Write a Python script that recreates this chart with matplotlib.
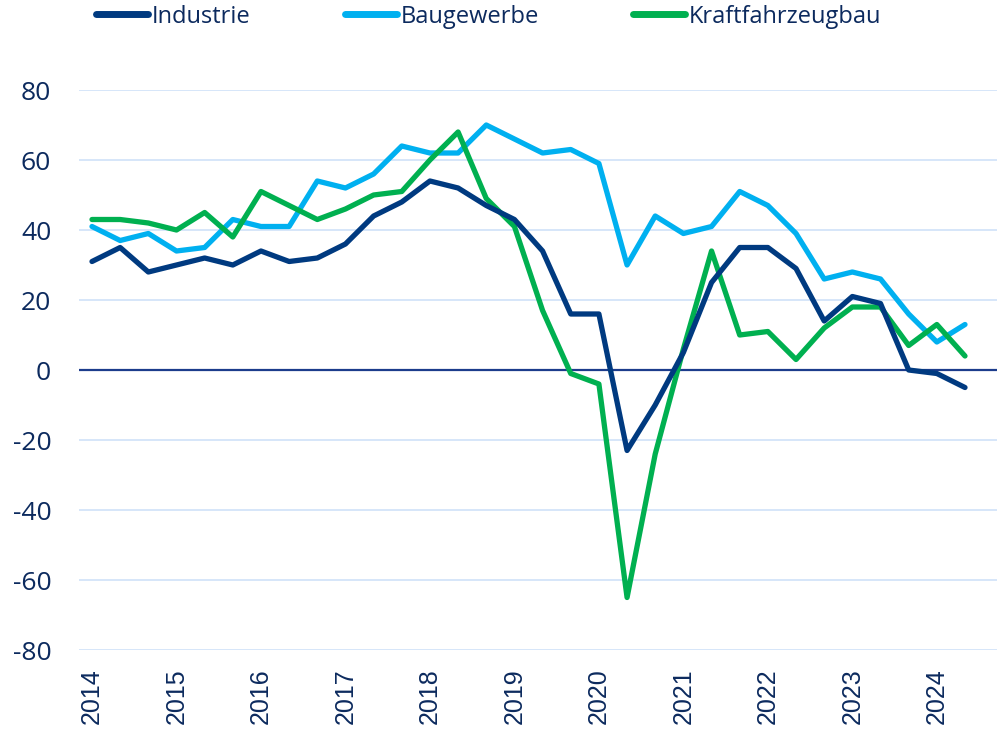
import matplotlib.pyplot as plt

plt.rcParams['axes.unicode_minus'] = False

# quarterly-ish survey balances (3 per year), 2014 .. mid 2024
years = [str(y) for y in range(2014, 2025)]

industrie = [31, 35, 28, 30, 32, 30, 34, 31, 32, 36, 44, 48, 54, 52, 47, 43,
             34, 16, 16, -23, -10, 5, 25, 35, 35, 29, 14, 21, 19, 0, -1, -5]
baugewerbe = [41, 37, 39, 34, 35, 43, 41, 41, 54, 52, 56, 64, 62, 62, 70, 66,
              62, 63, 59, 30, 44, 39, 41, 51, 47, 39, 26, 28, 26, 16, 8, 13]
kfz = [43, 43, 42, 40, 45, 38, 51, 47, 43, 46, 50, 51, 60, 68, 49, 41,
       17, -1, -4, -65, -24, 6, 34, 10, 11, 3, 12, 18, 18, 7, 13, 4]

navy = '#003a80'
txt = '#0c2a5e'
grid_col = '#cfe2f8'

fig = plt.figure(figsize=(9.97, 7.33), dpi=100)
W, H = 997, 733
ax = fig.add_axes([79 / W, 1 - 650 / H, (997 - 79) / W, (650 - 90) / H])

x = list(range(len(industrie)))
lw = 3.8
ax.plot(x, industrie, color=navy, lw=lw, label='Industrie', solid_capstyle='round', zorder=4)
ax.plot(x, baugewerbe, color='#00b0f0', lw=lw, label='Baugewerbe', solid_capstyle='round', zorder=3)
ax.plot(x, kfz, color='#00b050', lw=lw, label='Kraftfahrzeugbau', solid_capstyle='round', zorder=3.5)

ax.set_ylim(-80, 80)
ax.set_xlim(-13 / 28.16, 31 + 32 / 28.16)
ax.set_yticks(range(-80, 81, 20))
ax.set_xticks(range(0, 31, 3))
ax.set_xticklabels(years, rotation=90, family='Liberation Sans', fontsize=18, color=txt)
for lab in ax.get_yticklabels():
    lab.set_family('Open Sans')
    lab.set_fontsize(19)
    lab.set_color(txt)

ax.grid(axis='y', color=grid_col, lw=1.2, zorder=0)
ax.axhline(0, color='#1c3c8c', lw=1.6, zorder=2)
ax.tick_params(axis='both', length=0)
ax.tick_params(axis='y', pad=20)
ax.tick_params(axis='x', pad=13)
for s in ax.spines.values():
    s.set_visible(False)

leg = ax.legend(loc='lower left', bbox_to_anchor=(8 / 918, 1 + 52 / 560), ncol=3, frameon=False,
                handlelength=2.2, handletextpad=0.15, columnspacing=4.0,
                prop={'family': 'Open Sans', 'size': 17}, borderaxespad=0)
for t in leg.get_texts():
    t.set_color(txt)
for l in leg.get_lines():
    l.set_linewidth(5)
    l.set_solid_capstyle('round')

fig.savefig('out.png', dpi=100)
